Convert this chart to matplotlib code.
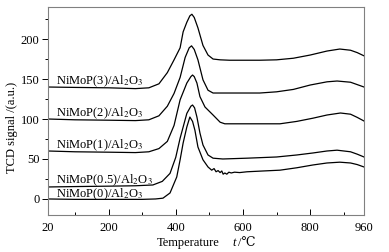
import matplotlib
matplotlib.use("Agg")
import matplotlib.pyplot as plt
from matplotlib.ticker import MultipleLocator, FixedLocator

# --- data (temperature in C, TCD signal in a.u.) ---
T3 = [20, 100, 200, 280, 320, 350, 375, 395, 413, 422, 433, 442, 448, 455, 466,
      481, 496, 511, 532, 560, 600, 650, 700, 750, 800, 850, 888, 920, 940, 960]
S3 = [140, 139.5, 139, 138, 139, 144, 158, 174, 189, 209, 221, 229, 231, 227, 214,
      192, 180, 175, 174, 173.5, 173.5, 173.5, 174, 176, 180, 185, 187.5, 186, 183, 179]

T2 = [20, 100, 200, 280, 320, 350, 375, 395, 413, 428, 440, 447, 455, 466,
      481, 496, 511, 532, 560, 600, 650, 700, 750, 800, 850, 880, 920, 940, 960]
S2 = [100, 99, 98.5, 98, 99, 104, 116, 132, 152, 177, 189, 191.5, 187, 174,
      149, 136, 132.5, 132.5, 132.5, 132.5, 132.5, 134, 137, 142.5, 146.5, 147.5, 146, 143, 140]

T1 = [20, 100, 200, 280, 320, 350, 375, 395, 413, 433, 445, 450, 455, 463, 472,
      487, 511, 532, 546, 600, 650, 710, 760, 808, 850, 890, 920, 940, 960]
S1 = [60, 59, 58.5, 58, 59, 63, 72, 92, 124, 145, 153, 155, 153, 145, 128,
      115, 105, 96, 94, 94, 94, 94, 97, 101, 105, 107.5, 106, 102, 97.5]

T05 = [20, 100, 200, 280, 332, 360, 383, 400, 413, 433, 445, 450, 456, 463, 472,
       481, 496, 511, 540, 612, 700, 760, 808, 850, 880, 920, 940, 960]
S05 = [15, 15.5, 16, 16.5, 17.5, 22, 32, 52, 76, 107, 116, 117.5, 114, 102.5, 82.5,
       67.5, 55, 51, 50, 51, 52.5, 55, 57.5, 60, 61, 59, 56, 52.5]

T0 = [20, 100, 200, 300, 340, 362, 383, 403, 413, 422, 433, 442, 450, 457, 466,
      481, 496, 507, 514, 520, 526, 532, 537, 541, 546, 552, 558, 565, 575, 590,
      612, 660, 710, 760, 808, 850, 888, 920, 940, 960]
S0 = [0, -0.5, -0.5, -0.5, 0, 1, 7.5, 27.5, 49, 70, 90, 102.5, 97, 86, 65,
      49, 40, 36, 38, 34, 35.5, 33, 35, 31, 32.5, 31, 33.5, 32.5, 33.5, 33,
      34, 35, 36, 39, 42.5, 45, 46, 45, 43, 40]

SERIES = [
    (T3, S3, r"NiMoP(3)/Al$_2$O$_3$", 144),
    (T2, S2, r"NiMoP(2)/Al$_2$O$_3$", 104),
    (T1, S1, r"NiMoP(1)/Al$_2$O$_3$", 64),
    (T05, S05, r"NiMoP(0.5)/Al$_2$O$_3$", 20),
    (T0, S0, r"NiMoP(0)/Al$_2$O$_3$", 1.5),
]

X_TICKS = [20, 200, 400, 600, 800, 960]
X_MINOR = [100, 300, 500, 700, 900]

FS = 9
plt.rcParams["font.family"] = ["Liberation Serif", "DejaVu Serif"]
plt.rcParams["mathtext.fontset"] = "stix"

fig = plt.figure(figsize=(3.89, 2.52), dpi=100)
ax = fig.add_axes([0.1234, 0.147, 0.8123, 0.825])

for t, s, label, ly in SERIES:
    ax.plot(t, s, color="black", linewidth=0.9)
    ax.text(44, ly, label, fontsize=FS, va="baseline", ha="left")

ax.set_xlim(20, 960)
ax.set_ylim(-20, 240)
ax.xaxis.set_major_locator(FixedLocator(X_TICKS))
ax.xaxis.set_minor_locator(FixedLocator(X_MINOR))
ax.yaxis.set_major_locator(MultipleLocator(50))
ax.yaxis.set_minor_locator(MultipleLocator(25))
ax.tick_params(axis="x", which="both", direction="in", labelsize=FS, pad=5)
ax.tick_params(axis="x", which="major", length=4, width=0.7)
ax.tick_params(axis="x", which="minor", length=2.5, width=0.7)
ax.tick_params(axis="y", which="both", direction="out", labelsize=FS, pad=2)
ax.tick_params(axis="y", which="major", length=4, width=0.7)
ax.tick_params(axis="y", which="minor", length=2, width=0.7)
for sp in ax.spines.values():
    sp.set_color("#808080")
    sp.set_linewidth(0.8)

# x label in pieces: upright "Temperature", italic "t", then "/℃"
ylab = 1 - 243 / 252
fig.text(157 / 389, ylab, "Temperature", fontsize=FS, va="center", ha="left")
fig.text(232 / 389, ylab, "t", fontsize=FS, style="italic", va="center", ha="left")
fig.text(238 / 389, ylab, "/℃", fontsize=FS, va="center", ha="left")

ax.set_ylabel("TCD signal /(a.u.)", fontsize=FS)
ax.yaxis.set_label_coords(-0.095, 0.42)

fig.savefig("out.png", dpi=100)
